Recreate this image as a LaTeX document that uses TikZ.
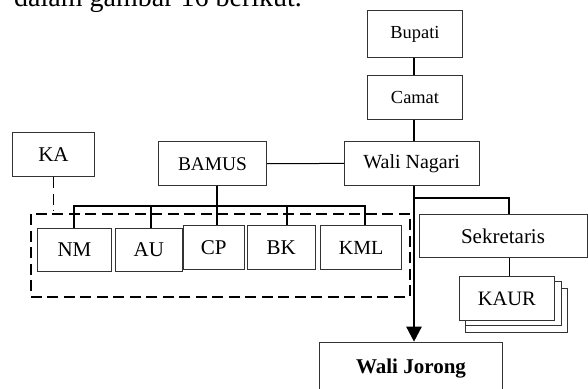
\documentclass[tikz,border=0pt]{standalone}
\usepackage{fontspec}
\setmainfont{Liberation Serif}
\usetikzlibrary{arrows.meta}
\begin{document}
\begin{tikzpicture}[x=1pt,y=-1pt,
  box/.style={draw=black!80, line width=1pt, inner sep=0pt, fill=white, font=\fontsize{20}{24}\selectfont},
  smallbox/.style={box, font=\fontsize{18.4}{22}\selectfont},
  heavy/.style={line width=2.4pt},
  bus/.style={line width=2pt},
  thin/.style={line width=1pt},
  dashline/.style={line width=1.7pt, dash pattern=on 11pt off 5.5pt}]
\useasboundingbox (0,0) rectangle (588,388);
\clip (0,0) rectangle (588,388);

% intro text (cut off at top, as in the reference)
\node[anchor=base west, inner sep=0pt, font=\fontsize{28}{34}\selectfont] (intro) at (14,6.5) {dalam gambar 16 berikut.};

% helper coordinates
\coordinate (mx) at (414,0);
\coordinate (busy) at (0,205.7);
\coordinate (bry) at (0,198.3);
\coordinate (sx) at (509,0);
\coordinate (dnm) at (74,0);
\coordinate (dau) at (150.7,0);
\coordinate (dcp) at (217,0);
\coordinate (dbk) at (287,0);
\coordinate (dkml) at (365,0);

% boxes
\node[smallbox, minimum width=94.6pt, minimum height=47.7pt] (bup) at (415,33.9) {Bupati};
\node[smallbox, minimum width=94.6pt, minimum height=44pt] (cam) at (415,97) {Camat};
\node[box, minimum width=134.7pt, minimum height=43.3pt] (wn) at (411.7,163.4) {Wali Nagari};
\node[box, font=\fontsize{19.4}{23}\selectfont, minimum width=108.4pt, minimum height=44pt] (bam) at (212.5,163.7) {BAMUS};
\node[box, font=\fontsize{21}{25}\selectfont, minimum width=81.6pt, minimum height=44.4pt] (ka) at (53.5,154.5) {KA};

% dashed group
\draw[dashline] (30.7,214.3) rectangle (410,296.7);
\coordinate (dtop) at (0,211);
\draw[dashline] (ka.south) -- (ka.south |- dtop);

\node[box, font=\fontsize{21}{25}\selectfont, minimum width=74.4pt, minimum height=43.4pt] (nm) at (74.5,250) {NM};
\node[box, font=\fontsize{21}{25}\selectfont, minimum width=67.7pt, minimum height=43.4pt] (au) at (148.9,250) {AU};
\node[box, font=\fontsize{21}{25}\selectfont, minimum width=60.7pt, minimum height=43.3pt] (cp) at (213.7,247.4) {CP};
\node[box, font=\fontsize{21}{25}\selectfont, minimum width=68pt, minimum height=43.3pt] (bk) at (281.3,247.4) {BK};
\node[box, minimum width=81pt, minimum height=43.6pt] (kml) at (361.2,247.5) {KML};

\node[box, font=\fontsize{21}{25}\selectfont, minimum width=168pt, minimum height=43.7pt] (sek) at (503,235.9) {Sekretaris};

% KAUR stack
\draw[draw=black!80, line width=1pt, fill=white] (465.7,288.3) rectangle (567.7,332.7);
\draw[draw=black!80, line width=1pt, fill=white] (465.7,281) rectangle (561,325.7);
\node[box, font=\fontsize{20.5}{24}\selectfont, minimum width=95pt, minimum height=43.3pt] (kaur) at (506.8,298.4) {KAUR};

% Wali Jorong
\node[box, minimum width=183pt, minimum height=80pt, anchor=north] (wj) at (410.5,341.7) {};
\node[anchor=base, inner sep=0pt, font=\fontsize{21}{25}\selectfont\bfseries] (wjt) at (411,373) {Wali Jorong};

% connectors
\draw[heavy] (bup.south -| mx) -- (cam.north -| mx);
\draw[heavy] (cam.south -| mx) -- (wn.north -| mx);
\draw[thin] (bam.east) -- (wn.west);
\draw[heavy, -{Triangle[width=15pt,length=15pt]}] (wn.south -| mx) -- (wj.north -| mx);
\draw[bus] (mx |- bry) -- (sx |- bry) -- (sek.north -| sx);
\draw[thin] (sek.south -| sx) -- (kaur.north -| sx);

\draw[bus] (bam.south -| dcp) -- (dcp |- busy);
\draw[bus] (dnm |- nm.north) -- (dnm |- busy) -- (dkml |- busy) -- (dkml |- kml.north);
\draw[bus] (dau |- busy) -- (dau |- au.north);
\draw[bus] (dcp |- busy) -- (dcp |- cp.north);
\draw[bus] (dbk |- busy) -- (dbk |- bk.north);
\end{tikzpicture}
\end{document}
